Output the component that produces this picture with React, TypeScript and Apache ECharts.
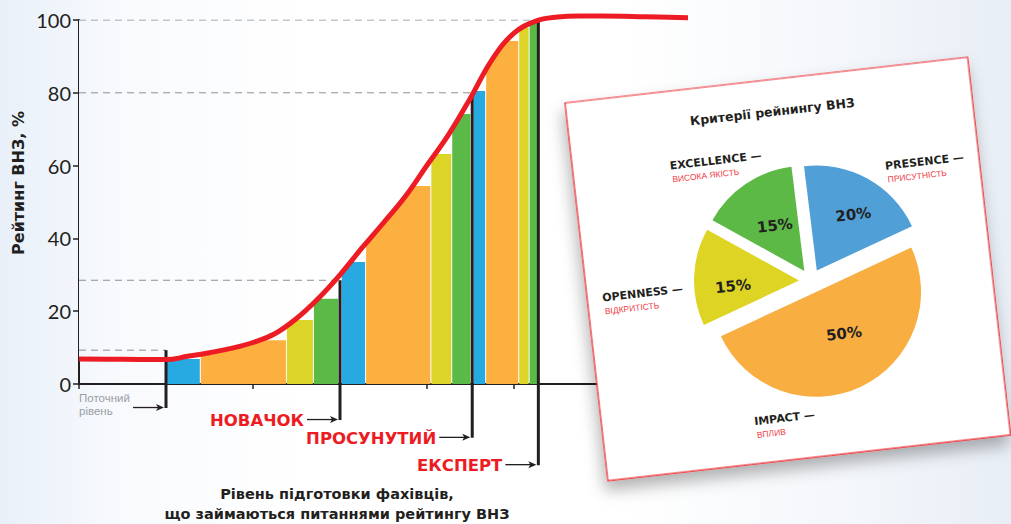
import React, { useEffect, useRef } from 'react';
import * as echarts from 'echarts';

// ---------- data ----------
const yTicks = [0, 20, 40, 60, 80, 100];
const barStart = [1.0, 1.4, 2.39, 2.7, 3.02, 3.3, 4.05, 4.29, 4.54, 4.68, 5.06, 5.18];
const barEnd = [1.4, 2.39, 2.7, 2.99, 3.3, 4.05, 4.29, 4.51, 4.68, 5.06, 5.18, 5.28];
const barValues = [6.9, 12, 17.6, 23.4, 33.5, 54.4, 63.2, 74.2, 80.5, 94.2, 97.8, 99.2];
const barColorIdx = [0, 1, 2, 3, 0, 1, 2, 3, 0, 1, 2, 3];
const barColors = ['#27a9e1', '#fbb040', '#dcd427', '#5bb947'];

const curveX = [0, 0.5, 1, 1.25, 1.5, 1.75, 2, 2.25, 2.5, 2.75, 3, 3.25, 3.5, 3.75, 4, 4.25, 4.5, 4.75, 5, 5.25, 5.5, 5.75, 6, 6.5, 7];
const curveY = [6.9, 6.8, 6.7, 7.6, 8.6, 9.8, 11.4, 13.8, 18, 23.5, 30, 37.3, 44.3, 51.5, 60.1, 68.6, 78.6, 89.2, 96.4, 99.7, 100.8, 101.1, 101.1, 100.9, 100.6];

const levelX = [1, 3, 4.52, 5.28];
const levelTop = [9.3, 28.5, 80, 100];
const levelBottom = [-6.6, -9.9, -14.8, -22.3];
const levelNames = ['Поточний\nрівень', 'НОВАЧОК', 'ПРОСУНУТИЙ', 'ЕКСПЕРТ'];

const yAxisTitle = 'Рейтинг ВНЗ, %';
const xAxisTitle = ['Рівень підготовки фахівців,', 'що займаються питаннями рейтингу ВНЗ'];

const pieTitle = 'Критерії рейнингу ВНЗ';
const pieNames = ['PRESENCE', 'IMPACT', 'OPENNESS', 'EXCELLENCE'];
const pieNamesUa = ['ПРИСУТНІСТЬ', 'ВПЛИВ', 'ВІДКРИТІСТЬ', 'ВИСОКА ЯКІСТЬ'];
const pieValues = [20, 50, 15, 15];
const pieColors = ['#519fd7', '#f9ae42', '#ddd424', '#5cb946'];

// label positions inside the rotated card (local coordinates)
const pieLabelPos = [
  [311, 99],
  [152, 338],
  [15, 198],
  [97, 74.5],
];
// fine placement of the percentage labels inside slices
const pieLabelPad = [
  [0, 0, 0, 12],
  [0, 0, 0, 6],
  [0, 8, 0, 0],
  [0, 0, 0, 10],
];
const pieLabelFmt = ['{c}%', '{c}%\n\n', '\n{c}%', '\n{c}%'];

// page background gradient stops (also used to mask bars above the curve)
const bgStops = [
  { offset: 0, color: '#e9f0f9' },
  { offset: 0.12, color: '#f8fafd' },
  { offset: 0.3, color: '#ffffff' },
  { offset: 0.62, color: '#ffffff' },
  { offset: 0.85, color: '#f3f6fa' },
  { offset: 1, color: '#e8eef6' },
];

export default function App() {
  const ref = useRef<HTMLDivElement>(null);

  useEffect(() => {
    const chart = echarts.init(ref.current!, null, { renderer: 'svg' });
    const dark = '#231f20';
    const red = '#ed1c24';
    const theta = (6.5 * Math.PI) / 180;
    const curveData = curveX.map((x, i) => [x, curveY[i]]);
    const smooth = 0.4;

    const series: any[] = [];
    series.push({
      type: 'custom',
      name: 'bars',
      silent: true,
      encode: { x: [0, 1], y: 2 },
      data: barStart.map((s, i) => [s, barEnd[i], barValues[i], barColorIdx[i]]),
      renderItem: (params: any, api: any) => {
        const p0 = api.coord([api.value(0), api.value(2)]);
        const p1 = api.coord([api.value(1), 0]);
        return {
          type: 'rect',
          shape: { x: p0[0], y: p0[1], width: p1[0] - p0[0] - 1, height: p1[1] - p0[1] },
          style: { fill: barColors[api.value(3)] },
        };
      },
      z: 2,
    });
    // mask: background-coloured area above the curve, so bars end at the curve
    series.push({
      type: 'line',
      silent: true,
      smooth,
      symbol: 'none',
      data: curveData,
      lineStyle: { width: 0, opacity: 0 },
      areaStyle: {
        origin: 'end',
        opacity: 1,
        color: new echarts.graphic.LinearGradient(0, 0, 1011, 0, bgStops, true),
      },
      z: 3,
    });
    levelX.forEach((x, i) => {
      series.push({
        type: 'line',
        silent: true,
        data: [
          [0, levelTop[i]],
          [x, levelTop[i]],
        ],
        symbol: 'none',
        lineStyle: { color: '#8d8f92', width: 1, type: [7, 5] },
        z: 4,
      });
    });
    levelX.forEach((x, i) => {
      series.push({
        type: 'line',
        silent: true,
        clip: false,
        data: [
          [x, levelBottom[i]],
          [x, levelTop[i]],
        ],
        symbol: 'none',
        lineStyle: { color: dark, width: 3 },
        z: 5,
      });
    });
    series.push({
      type: 'line',
      silent: true,
      clip: false,
      smooth,
      symbol: 'none',
      data: curveData,
      lineStyle: { color: red, width: 5 },
      z: 6,
    });
    const pieData = pieValues.map((v, i) => ({
      value: v,
      name: pieNames[i],
      selected: true,
      itemStyle: { color: pieColors[i] },
    }));
    series.push({
      type: 'pie',
      center: [811, 281],
      radius: 105,
      startAngle: 97,
      selectedMode: 'multiple',
      selectedOffset: 12,
      silent: true,
      label: { show: false },
      labelLine: { show: false },
      emphasis: { disabled: true },
      data: pieData,
      z: 11,
    });
    series.push({
      type: 'pie',
      center: [811, 281],
      radius: [15, 105],
      startAngle: 97,
      selectedMode: 'multiple',
      selectedOffset: 12,
      silent: true,
      itemStyle: { color: 'rgba(0,0,0,0)' },
      label: {
        show: true,
        position: 'inside',
        formatter: '{c}%',
        rotate: 6.5,
        fontFamily: 'DejaVu Sans',
        fontWeight: 'bold',
        fontSize: 15,
        lineHeight: 15,
        color: dark,
      },
      labelLine: { show: false },
      emphasis: { disabled: true },
      data: pieData.map((d, i) => ({
        ...d,
        itemStyle: { color: 'rgba(0,0,0,0)' },
        label: { padding: pieLabelPad[i], formatter: pieLabelFmt[i] },
      })),
      z: 12,
    });

    chart.setOption({
      animation: false,
      backgroundColor: 'transparent',
      grid: { left: 79, right: 323, top: 20, bottom: 140, containLabel: false },
      xAxis: {
        type: 'value',
        min: 0,
        max: 7,
        interval: 1,
        axisLine: { show: true, lineStyle: { color: dark, width: 2 } },
        axisTick: { show: true, length: 5, lineStyle: { color: dark, width: 1.5 } },
        axisLabel: { show: false },
        splitLine: { show: false },
      },
      yAxis: {
        type: 'value',
        min: yTicks[0],
        max: yTicks[yTicks.length - 1],
        interval: 20,
        axisLine: { show: true, lineStyle: { color: dark, width: 2 } },
        axisTick: { show: true, length: 6, lineStyle: { color: dark, width: 1.5 } },
        axisLabel: { color: dark, fontSize: 20, fontFamily: 'Lato', margin: 8 },
        splitLine: { show: false },
      },
      series,
    });

    const toPx = (x: number, y: number) => chart.convertToPixel({ gridIndex: 0 }, [x, y]) as number[];
    const graphics: any[] = [];

    // level annotations
    levelX.forEach((x, i) => {
      const [bx, by] = toPx(x, levelBottom[i]);
      const ay = by - 0.5;
      const x1 = bx - 2;
      const x0 = bx - 33;
      graphics.push({
        type: 'line',
        shape: { x1: x0, y1: ay, x2: x1 - 4, y2: ay },
        style: { stroke: dark, lineWidth: 1.3 },
        z: 5,
      });
      graphics.push({
        type: 'polygon',
        shape: { points: [[x1, ay], [x1 - 8, ay - 3.5], [x1 - 6, ay], [x1 - 8, ay + 3.5]] },
        style: { fill: dark },
        z: 5,
      });
      if (i === 0) {
        const [gx] = toPx(0, 0);
        graphics.push({
          type: 'text',
          x: gx,
          y: ay - 3,
          style: {
            text: levelNames[i],
            font: '11.5px "Liberation Sans"',
            fill: '#9a9ea3',
            textAlign: 'left',
            textVerticalAlign: 'middle',
            lineHeight: 13,
          },
          z: 5,
        });
      } else {
        graphics.push({
          type: 'text',
          x: x0 - 3,
          y: ay + 1,
          style: {
            text: levelNames[i],
            font: 'bold 16.5px "DejaVu Sans"',
            fill: red,
            textAlign: 'right',
            textVerticalAlign: 'middle',
          },
          z: 5,
        });
      }
    });

    // axis titles
    graphics.push({
      type: 'text',
      x: 18,
      y: 183,
      rotation: Math.PI / 2,
      style: {
        text: yAxisTitle,
        font: 'bold 16px "DejaVu Sans"',
        fill: dark,
        textAlign: 'center',
        textVerticalAlign: 'middle',
      },
    });
    xAxisTitle.forEach((t, i) => {
      graphics.push({
        type: 'text',
        x: 337,
        y: 494 + i * 20,
        style: {
          text: t,
          font: 'bold 14.5px "DejaVu Sans"',
          fill: dark,
          textAlign: 'center',
          textVerticalAlign: 'middle',
        },
      });
    });

    // rotated card
    const cardChildren: any[] = [
      {
        type: 'rect',
        shape: { x: 0, y: 0, width: 405, height: 380 },
        style: {
          fill: '#ffffff',
          stroke: red,
          lineWidth: 1.2,
          shadowBlur: 16,
          shadowOffsetX: -3,
          shadowOffsetY: 9,
          shadowColor: 'rgba(0,0,0,0.3)',
        },
        z: 10,
      },
      {
        type: 'text',
        x: 205,
        y: 32,
        style: {
          text: pieTitle,
          font: 'bold 12.5px "DejaVu Sans"',
          fill: dark,
          textAlign: 'center',
          textVerticalAlign: 'middle',
        },
        z: 13,
      },
    ];
    pieNames.forEach((n, i) => {
      const [u, v] = pieLabelPos[i];
      cardChildren.push({
        type: 'text',
        x: u,
        y: v,
        style: {
          text: n + ' —',
          font: 'bold 11px "DejaVu Sans"',
          fill: dark,
          textAlign: 'left',
          textVerticalAlign: 'middle',
        },
        z: 13,
      });
      cardChildren.push({
        type: 'text',
        x: u + 1,
        y: v + 13.5,
        style: {
          text: pieNamesUa[i],
          font: '8.5px "Liberation Sans"',
          fill: '#ee3b45',
          textAlign: 'left',
          textVerticalAlign: 'middle',
        },
        z: 13,
      });
    });
    graphics.push({
      type: 'group',
      x: 565,
      y: 103,
      rotation: theta,
      children: cardChildren,
    });

    chart.setOption({ graphic: { elements: graphics } });

    return () => chart.dispose();
  }, []);

  const cssStops = bgStops.map((s) => `${s.color} ${s.offset * 100}%`).join(', ');
  return (
    <div
      style={{
        position: 'fixed',
        left: 0,
        top: 0,
        width: 1011,
        height: 524,
        background: `linear-gradient(90deg, ${cssStops})`,
      }}
    >
      <div ref={ref} style={{ width: 1011, height: 524 }} />
    </div>
  );
}
